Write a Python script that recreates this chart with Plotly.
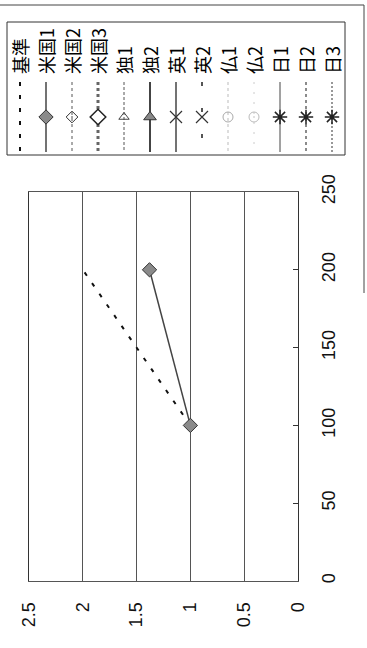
import plotly.graph_objects as go

W, H = 367, 648

# ---------------- data ----------------
series_names = ["基準", "米国1", "米国2", "米国3", "独1", "独2", "英1", "英2",
                "仏1", "仏2", "日1", "日2", "日3"]

x_tick_vals = [0, 50, 100, 150, 200, 250]
y_tick_vals = [0, 0.5, 1, 1.5, 2, 2.5]
y_tick_labels = ["0", "0.5", "1", "1.5", "2", "2.5"]

kijun_x = [100, 200]
kijun_y = [1.0, 2.0]
us1_x = [100, 200]
us1_y = [1.0, 1.38]

series_data = {
    "基準": (kijun_x, kijun_y),
    "米国1": (us1_x, us1_y),
}

# ---------------- styles ----------------
styles = {
    "基準": dict(line=dict(color="#111111", width=2, dash="4px,9px"), marker=None),
    "米国1": dict(line=dict(color="#444444", width=1.5),
                marker=dict(symbol="diamond", size=11, color="#8a8a8a",
                            line=dict(color="#333333", width=1))),
    "米国2": dict(line=dict(color="#555555", width=1, dash="dot"),
                marker=dict(symbol="diamond-open-dot", size=9, color="#333333",
                            line=dict(width=1))),
    "米国3": dict(line=dict(color="#666666", width=3, dash="dot"),
                marker=dict(symbol="diamond", size=12, color="white",
                            line=dict(color="#222222", width=1.5))),
    "独1": dict(line=dict(color="#555555", width=1, dash="3px,2px"),
               marker=dict(symbol="triangle-up-open", size=9, color="#444444",
                           line=dict(width=1))),
    "独2": dict(line=dict(color="#444444", width=2),
               marker=dict(symbol="triangle-up", size=11, color="#888888",
                           line=dict(color="#333333", width=1))),
    "英1": dict(line=dict(color="#444444", width=1.5),
               marker=dict(symbol="x-thin-open", size=12, color="#333333",
                           line=dict(width=1.2))),
    "英2": dict(line=dict(color="#555555", width=2, dash="4px,22px"),
               marker=dict(symbol="x-thin-open", size=12, color="#333333",
                           line=dict(width=1.2))),
    "仏1": dict(line=dict(color="#bbbbbb", width=1, dash="dot"),
               marker=dict(symbol="circle-open", size=10, color="#aaaaaa",
                           line=dict(width=1))),
    "仏2": dict(line=dict(color="#cccccc", width=1, dash="2px,8px"),
               marker=dict(symbol="circle-open-dot", size=10, color="#bbbbbb",
                           line=dict(width=1))),
    "日1": dict(line=dict(color="#444444", width=1),
               marker=dict(symbol="asterisk-open", size=12, color="#222222",
                           line=dict(width=1.5))),
    "日2": dict(line=dict(color="#666666", width=1.5, dash="dot"),
               marker=dict(symbol="asterisk-open", size=12, color="#222222",
                           line=dict(width=1.5))),
    "日3": dict(line=dict(color="#777777", width=1.5, dash="2px,2px"),
               marker=dict(symbol="asterisk-open", size=12, color="#222222",
                           line=dict(width=1.5))),
}

TICK_FONT = dict(family="Liberation Sans, Arial, sans-serif", size=18, color="#111111")
LEG_FONT = dict(family="Noto Sans CJK JP, sans-serif", size=18, color="#000000")

fig = go.Figure()

# main series (chart is drawn rotated 90 degrees: values run horizontally, x vertically)
for name in series_names:
    xs, ys = series_data.get(name, ([], []))
    st = styles[name]
    kw = dict(mode="lines+markers" if st["marker"] else "lines", line=st["line"])
    if st["marker"]:
        kw["marker"] = st["marker"]
    fig.add_trace(go.Scatter(x=ys, y=xs, name=name, xaxis="x", yaxis="y",
                             showlegend=False, **kw))

# legend (rotated) drawn on a pixel-space overlay axis
LEG_X0, LEG_STEP = 20, 26
LINE_Y0, LINE_Y1, MARK_Y, TEXT_Y = 82, 152, 117, 76
annotations = []
for i, name in enumerate(series_names):
    st = styles[name]
    px = LEG_X0 + LEG_STEP * i
    fig.add_trace(go.Scatter(x=[px, px], y=[LINE_Y0, LINE_Y1], mode="lines",
                             line=st["line"], xaxis="x2", yaxis="y2",
                             showlegend=False, hoverinfo="skip"))
    if st["marker"]:
        fig.add_trace(go.Scatter(x=[px], y=[MARK_Y], mode="markers",
                                 marker=st["marker"], xaxis="x2", yaxis="y2",
                                 showlegend=False, hoverinfo="skip"))
    annotations.append(dict(x=px, y=TEXT_Y, xref="x2", yref="y2", text=name,
                            textangle=-90, xanchor="center", yanchor="bottom",
                            showarrow=False, font=LEG_FONT))

shapes = [
    # legend frame
    dict(type="rect", xref="x2", yref="y2", x0=7, x1=345, y0=22, y1=155,
         line=dict(color="#333333", width=1)),
    # outer chart frame (partially visible)
    dict(type="line", xref="x2", yref="y2", x0=0, x1=364, y0=5, y1=5,
         line=dict(color="#444444", width=1)),
    dict(type="line", xref="x2", yref="y2", x0=364, x1=364, y0=5, y1=293,
         line=dict(color="#444444", width=1)),
]

fig.update_layout(
    template="none",
    width=W, height=H,
    margin=dict(l=0, r=0, t=0, b=0, pad=0),
    paper_bgcolor="white",
    plot_bgcolor="rgba(0,0,0,0)",
    showlegend=False,
    xaxis=dict(domain=[29 / W, 298 / W], range=[2.5, 0], tickvals=y_tick_vals,
               ticktext=y_tick_labels, tickangle=-90, side="bottom", automargin=False,
               showgrid=True, gridcolor="#555555", gridwidth=1, zeroline=False,
               showline=True, mirror=True, linecolor="#555555", linewidth=1,
               ticks="", tickfont=TICK_FONT, ticklabelstandoff=13, fixedrange=True),
    yaxis=dict(domain=[1 - 581 / H, 1 - 192 / H], range=[0, 250], tickvals=x_tick_vals,
               tickangle=-90, side="right", showgrid=False, zeroline=False,
               automargin=False,
               showline=True, mirror=True, linecolor="#333333", linewidth=1,
               ticks="inside", ticklen=5, tickcolor="#333333",
               tickfont=TICK_FONT, ticklabelstandoff=14, fixedrange=True),
    xaxis2=dict(domain=[0, 1], range=[0, W], visible=False, fixedrange=True,
                automargin=False, anchor="y2"),
    yaxis2=dict(domain=[0, 1], range=[H, 0], visible=False, fixedrange=True,
                automargin=False, anchor="x2"),
    annotations=annotations,
    shapes=shapes,
)

fig.write_html("out.html",
               config={"displayModeBar": False, "staticPlot": True},
               post_script="document.body.style.margin='0';document.body.style.overflow='hidden';")
